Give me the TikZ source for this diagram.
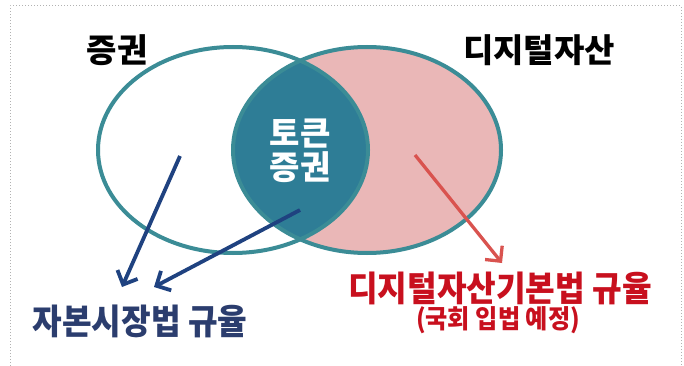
\documentclass[tikz,border=0pt]{standalone}
\usepackage{fontspec}
\newfontfamily\kr{Noto Sans CJK KR}
\usetikzlibrary{arrows.meta}
\definecolor{rimteal}{RGB}{59,140,150}
\definecolor{lensteal}{RGB}{46,125,150}
\definecolor{assetpink}{RGB}{234,183,183}
\definecolor{lawnavy}{RGB}{31,66,128}
\definecolor{labelnavy}{RGB}{43,61,110}
\definecolor{lawred}{RGB}{217,83,79}
\definecolor{labelred}{RGB}{200,16,30}
\tikzset{
  setlabel/.style={font=\kr\bfseries\fontsize{33}{35}\selectfont},
  lawlabel/.style={font=\kr\bfseries\fontsize{35}{37}\selectfont, xscale=0.92},
  lawarrow/.style={line width=3.8pt, -{Straight Barb[length=11pt,width=22pt]}}
}

\begin{document}
\begin{tikzpicture}[x=1pt,y=-1pt]
      \useasboundingbox (0,0) rectangle (684,366);
      \draw[gray!60, dotted, line width=1pt](10,366)--(10,6)--(681,6)--(681,366);

      \coordinate (L) at (233,150);
      \coordinate (R) at (367,150);

      \fill[white](L) ellipse (135 and 103);
      \fill[assetpink](R) ellipse (134 and 103);
      \begin{scope}
        \clip (L) ellipse (135 and 103);
        \fill[lensteal](R) ellipse (134 and 103);
      \end{scope}
      \draw[rimteal, line width=4pt](L) ellipse (135 and 103);
      \draw[rimteal, line width=4pt](R) ellipse (134 and 103);

      \node[setlabel] (sec) at (117,50) {증권};
      \node[setlabel] (asset) at (539,50) {디지털자산};
      \node[setlabel, white, align=center, font=\kr\bfseries\fontsize{33}{34}\selectfont] (token) at (300,151) {토큰\\증권};

      \node[lawlabel, text=labelnavy] (cap) at (140,321) {자본시장법 규율};
      \node[lawlabel, text=labelred] (dab) at (500,288) {디지털자산기본법 규율};
      \node[text=labelred, font=\kr\bfseries\fontsize{26}{28}\selectfont, xscale=0.93] (plan) at (498,320) {(국회 입법 예정)};

      \coordinate (secfrom) at (180,156);
      \coordinate (secto) at (122,287);
      \coordinate (tokfrom) at (300,210);
      \coordinate (tokto) at (154,287);
      \coordinate (assfrom) at (415,155);
      \coordinate (assto) at (502,263);

      \draw[lawarrow, lawnavy](secfrom)--(secto);
      \draw[lawarrow, lawnavy](tokfrom)--(tokto);
      \draw[lawarrow, lawred, line width=3.3pt](assfrom)--(assto);

      %\draw(300,0) node{title};
      \end{tikzpicture}
\end{document}
